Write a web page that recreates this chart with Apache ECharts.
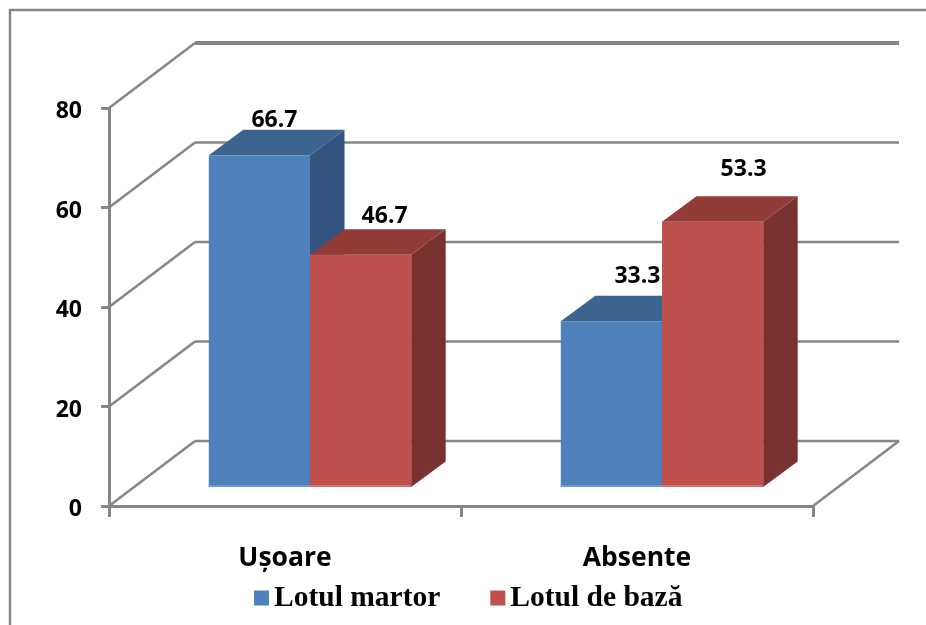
<!DOCTYPE html>
<html>
<head>
<meta charset="utf-8">
<style>html,body{margin:0;padding:0;background:#fff}#chart{width:926px;height:625px}</style>
<script src="https://cdn.jsdelivr.net/npm/echarts@6/dist/echarts.min.js"></script>
</head>
<body>
<div id="chart"></div>
<script>
// Severity groups and the share of each study lot, in percent
const categories = ['Ușoare', 'Absente'];
const lotMartor = [66.7, 33.3];
const lotDeBaza = [46.7, 53.3];
const valueTicks = [0, 20, 40, 60, 80];

// Hand-placed value labels: offset from the top centre of the bar's front face
const martorLabelOffset = [[15, -35], [26, -45]];
const bazaLabelOffset = [[24, -38], [31, -52]];

const AXIS_GREY = '#868686';
const WALL_DX = 86, WALL_DY = -65;     // projection of the back wall
const BAR_DX = 34.5, BAR_DY = -25.5;   // depth of one bar
const FLOOR_DX = 25, FLOOR_DY = -19;   // where bars stand on the floor
const BAR_RATIO = 0.2875;              // bar width relative to a category band

function wallItem(params, api) {
  const cs = params.coordSys;
  const v = api.value(1);
  const y = api.coord([0, v])[1];
  const x0 = cs.x;
  const x1 = cs.x + cs.width;
  const diagonal = { stroke: AXIS_GREY, lineWidth: 2.5 };
  const children = [
    { type: 'line', shape: { x1: x0 + WALL_DX, y1: y + WALL_DY, x2: x1 + WALL_DX, y2: y + WALL_DY },
      style: { stroke: AXIS_GREY, lineWidth: v === 80 ? 4 : 2.5 } },
    { type: 'line', shape: { x1: x0, y1: y, x2: x0 + WALL_DX, y2: y + WALL_DY }, style: diagonal }
  ];
  if (v === 0) {
    children.push({ type: 'line', shape: { x1: x1, y1: y, x2: x1 + WALL_DX, y2: y + WALL_DY }, style: diagonal });
  }
  return { type: 'group', children: children };
}

function barRenderer(side, faces, labelOffset) {
  return function (params, api) {
    const i = api.value(0);
    const band = api.size([1, 0])[0];
    const w = band * BAR_RATIO;
    const top = api.coord([i, api.value(1)]);
    const base = api.coord([i, 0]);
    const xL = top[0] + FLOOR_DX + (side < 0 ? -w : 0);
    const xR = xL + w;
    const yT = top[1] + FLOOR_DY;
    const yB = base[1] + FLOOR_DY;
    const off = labelOffset[i];
    return {
      type: 'group',
      children: [
        { type: 'polygon', shape: { points: [[xR, yT], [xR + BAR_DX, yT + BAR_DY], [xR + BAR_DX, yB + BAR_DY], [xR, yB]] }, style: { fill: faces.side } },
        { type: 'polygon', shape: { points: [[xL, yT], [xL + BAR_DX, yT + BAR_DY], [xR + BAR_DX, yT + BAR_DY], [xR, yT]] }, style: { fill: faces.top } },
        { type: 'rect', shape: { x: xL, y: yT, width: w, height: yB - yT }, style: { fill: faces.front } },
        { type: 'rect', shape: { x: xL, y: yB - 2, width: w, height: 2 }, style: { fill: faces.edge } },
        { type: 'text', x: (xL + xR) / 2 + off[0], y: yT + off[1],
          style: { text: String(api.value(1)), fill: '#000', font: 'bold 23px "Open Sans"', align: 'center', verticalAlign: 'middle' } }
      ]
    };
  };
}

const blueFaces = { front: '#4F81BD', top: '#3D638F', side: '#335580', edge: '#7099CC' };
const redFaces = { front: '#C0504D', top: '#923C3A', side: '#7A3230', edge: '#D27371' };

const chart = echarts.init(document.getElementById('chart'), null, { renderer: 'canvas' });
chart.setOption({
  animation: false,
  backgroundColor: '#fff',
  graphic: [{
    type: 'rect', silent: true, z: -1,
    shape: { x: 10, y: 10, width: 1200, height: 1000 },
    style: { fill: null, stroke: AXIS_GREY, lineWidth: 2.5 }
  }],
  grid: { left: 109, top: 108, width: 704, height: 398 },
  legend: {
    data: ['Lotul martor', 'Lotul de bază'],
    left: 249, top: 578,
    itemWidth: 15, itemHeight: 15, itemGap: 50,
    icon: 'rect',
    textStyle: { fontFamily: 'Liberation Serif', fontWeight: 'bold', fontSize: 29.5, color: '#000' }
  },
  xAxis: {
    type: 'category',
    data: categories,
    axisLine: { lineStyle: { color: AXIS_GREY, width: 3 } },
    axisTick: { show: true, length: 11, lineStyle: { color: AXIS_GREY, width: 3 } },
    axisLabel: { fontFamily: 'Open Sans', fontWeight: 'bold', fontSize: 26.5, color: '#000', margin: 39 }
  },
  yAxis: {
    type: 'value', min: 0, max: 80, interval: 20,
    axisLine: { show: true, lineStyle: { color: AXIS_GREY, width: 3 } },
    axisTick: { show: true, length: 8, lineStyle: { color: AXIS_GREY, width: 3 } },
    splitLine: { show: false },
    axisLabel: { fontFamily: 'Open Sans', fontWeight: 'bold', fontSize: 23, color: '#000', margin: 27, verticalAlign: 'top', lineHeight: 7 }
  },
  series: [
    { type: 'custom', name: 'walls', renderItem: wallItem, silent: true, z: 1,
      data: valueTicks.map(function (v) { return [0, v]; }), encode: { x: 0, y: 1 } },
    { type: 'custom', name: 'Lotul martor', itemStyle: { color: blueFaces.front }, z: 2,
      renderItem: barRenderer(-1, blueFaces, martorLabelOffset),
      data: lotMartor.map(function (v, i) { return [i, v]; }), encode: { x: 0, y: 1 } },
    { type: 'custom', name: 'Lotul de bază', itemStyle: { color: redFaces.front }, z: 3,
      renderItem: barRenderer(1, redFaces, bazaLabelOffset),
      data: lotDeBaza.map(function (v, i) { return [i, v]; }), encode: { x: 0, y: 1 } }
  ]
});
</script>
</body>
</html>
